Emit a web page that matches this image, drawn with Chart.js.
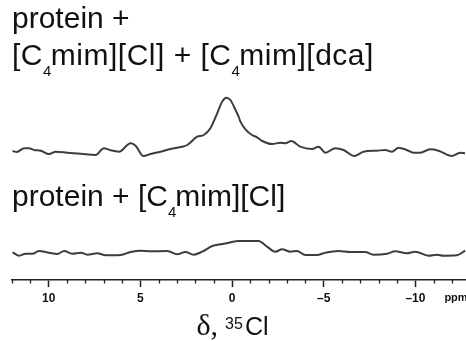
<!DOCTYPE html>
<html><head><meta charset="utf-8">
<script src="https://cdn.jsdelivr.net/npm/chart.js@4/dist/chart.umd.min.js"></script>
<style>html,body{margin:0;padding:0;background:#fff}#wrap{width:466px;height:341px}</style>
</head><body><div id="wrap"><canvas id="c"></canvas></div>
<script>
// chemical shift (ppm) and intensity (arbitrary units), upper spectrum
const ppmTop = [11.97,11.74,11.34,11.07,10.80,10.43,9.98,9.62,8.98,8.25,7.44,6.99,6.62,6.17,5.53,5.26,4.84,4.44,3.90,3.35,2.72,2.44,1.90,1.54,1.18,0.81,0.54,0.30,0.09,-0.19,-0.36,-0.46,-0.73,-1.09,-1.37,-1.64,-2.18,-2.64,-2.91,-3.23,-3.72,-4.36,-4.72,-5.09,-5.63,-6.08,-6.66,-7.17,-7.90,-8.35,-8.72,-9.08,-9.53,-9.89,-10.26,-10.80,-11.26,-11.98,-12.44,-12.71];
const intensityTop = [129,128,131.7,131.7,130,129.3,126,128.3,127.3,126.3,125,131.7,129.7,128.3,136.7,134.3,124,126,128.3,131,133.3,135,143.3,145,151.7,166.7,178.3,182.3,180,170,163.3,158.3,150.7,145,142.7,139,136,137.3,136.7,139,133.3,131,133.3,127.3,131.7,130,124,128.3,129.3,130,128.3,132.3,130,127.3,127.3,130.7,129.3,124,127.3,126.7];
// lower spectrum
const ppmBottom = [11.97,11.61,11.25,10.88,10.53,9.98,9.52,9.16,8.71,8.25,7.89,7.35,6.89,6.08,5.53,4.99,4.44,3.53,2.99,2.54,2.09,1.63,1.08,0.54,0.18,-0.36,-1.45,-1.91,-2.36,-2.73,-3.18,-3.54,-4.00,-4.63,-5.09,-5.81,-6.45,-7.26,-7.72,-8.45,-8.90,-9.53,-9.99,-10.71,-11.17,-11.53,-12.26,-12.71];
const intensityBottom = [27.7,24.3,26.3,26.3,29,27.3,26,29,26.3,27.3,25.3,26.7,24.7,25,28,29.3,28.7,29,25.7,28,25.3,28.3,34,36,37.3,39,39,33.3,28.3,30.7,28.3,29,25,25,27.3,29,28,28,25.3,26.3,28.7,26.7,28.3,24.3,25.3,24.3,24.7,29.3];
// axis
const majorTicks = [10,5,0,-5,-10];
const ppmRange = [12, -12.76];
const axisUnit = 'ppm';
// labels
const topLabel1 = [['protein +','n']];
const topLabel2 = [['[C','n'],['4','s'],['mim][Cl] + [C','n'],['4','s'],['mim][dca]','n']];
const bottomLabel = [['protein + [C','n'],['4','s'],['mim][Cl]','n']];

const SANS = '"Liberation Sans", Arial, Helvetica, sans-serif';
const SERIF = '"Liberation Serif", "Times New Roman", serif';

function drawRich(ctx, x, y, segs, size, spacing){
  ctx.textBaseline = 'alphabetic'; ctx.textAlign = 'left';
  ctx.letterSpacing = (spacing || 0) + 'px';
  for (const [t, k] of segs){
    if (k === 's'){ ctx.font = '15px '+SANS; ctx.fillText(t, x, y + 11); x += ctx.measureText(t).width - 1; }
    else { ctx.font = size+'px '+SANS; ctx.fillText(t, x, y); x += ctx.measureText(t).width; }
  }
  ctx.letterSpacing = '0px';
}

const deco = {
  id:'deco',
  afterDraw(chart){
    const ctx = chart.ctx, xs = chart.scales.x;
    ctx.save();
    // minor ticks
    ctx.strokeStyle = '#222'; ctx.lineWidth = 1.3;
    const yb = chart.chartArea.bottom;
    for (let v = Math.ceil(ppmRange[1]); v <= Math.floor(ppmRange[0]); v++){
      if (majorTicks.includes(v)) continue;
      const px = Math.round(xs.getPixelForValue(v)) + 0.5;
      ctx.beginPath(); ctx.moveTo(px, yb); ctx.lineTo(px, yb+3.5); ctx.stroke();
    }
    ctx.fillStyle = '#111';
    // unit
    ctx.font = 'bold 11px '+SANS; ctx.textAlign='center'; ctx.textBaseline='middle';
    ctx.fillText(axisUnit, 456, 298);
    // labels
    drawRich(ctx, 12, 28, topLabel1, 30, 0);
    drawRich(ctx, 12, 65, topLabel2, 30, 0.5);
    drawRich(ctx, 12, 206, bottomLabel, 30, 0);
    // axis title
    const y = 335;
    ctx.textBaseline='alphabetic'; ctx.textAlign='left';
    const parts = [['δ,', '30px '+SERIF, 0, 7], ['35', '16px '+SANS, -6, 2], ['Cl', '25px '+SANS, 0, 0]];
    let w = 0; for (const p of parts){ ctx.font = p[1]; w += ctx.measureText(p[0]).width + p[3]; }
    let x = 232.5 - w/2;
    for (const p of parts){ ctx.font = p[1]; ctx.fillText(p[0], x, y + p[2]); x += ctx.measureText(p[0]).width + p[3]; }
    ctx.restore();
  }
};

const toPts = (xs, ys) => xs.map((v,i)=>({x:v, y:ys[i]}));

new Chart(document.getElementById('c'), {
  type:'line',
  data:{ datasets:[
    { label:'protein + [C4mim][Cl] + [C4mim][dca]', data:toPts(ppmTop,intensityTop), borderColor:'#3d3d3d', borderWidth:2, pointRadius:0, cubicInterpolationMode:'monotone', fill:false },
    { label:'protein + [C4mim][Cl]', data:toPts(ppmBottom,intensityBottom), borderColor:'#3d3d3d', borderWidth:2, pointRadius:0, cubicInterpolationMode:'monotone', fill:false }
  ]},
  options:{
    responsive:true, maintainAspectRatio:false, animation:false,
    layout:{ padding:{ left:12, right:0, top:0, bottom:0 } },
    plugins:{ legend:{display:false}, tooltip:{enabled:false} },
    scales:{
      x:{ type:'linear', reverse:true, min:ppmRange[1], max:ppmRange[0],
        afterBuildTicks:(s)=>{ s.ticks = majorTicks.map(v=>({value:v})); },
        afterFit:(s)=>{ s.height = 61; },
        border:{ display:true, color:'#222', width:1.5 },
        grid:{ drawOnChartArea:false, drawTicks:true, tickLength:7, tickColor:'#222', tickWidth:1.5 },
        ticks:{ autoSkip:false, maxRotation:0, padding:4, color:'#111', font:{ family:SANS, size:12, weight:'bold' },
          callback:(v)=> v < 0 ? '\u2013'+Math.abs(v) : String(v) }
      },
      y:{ display:false, min:0, max:280 }
    }
  },
  plugins:[deco]
});
</script></body></html>
